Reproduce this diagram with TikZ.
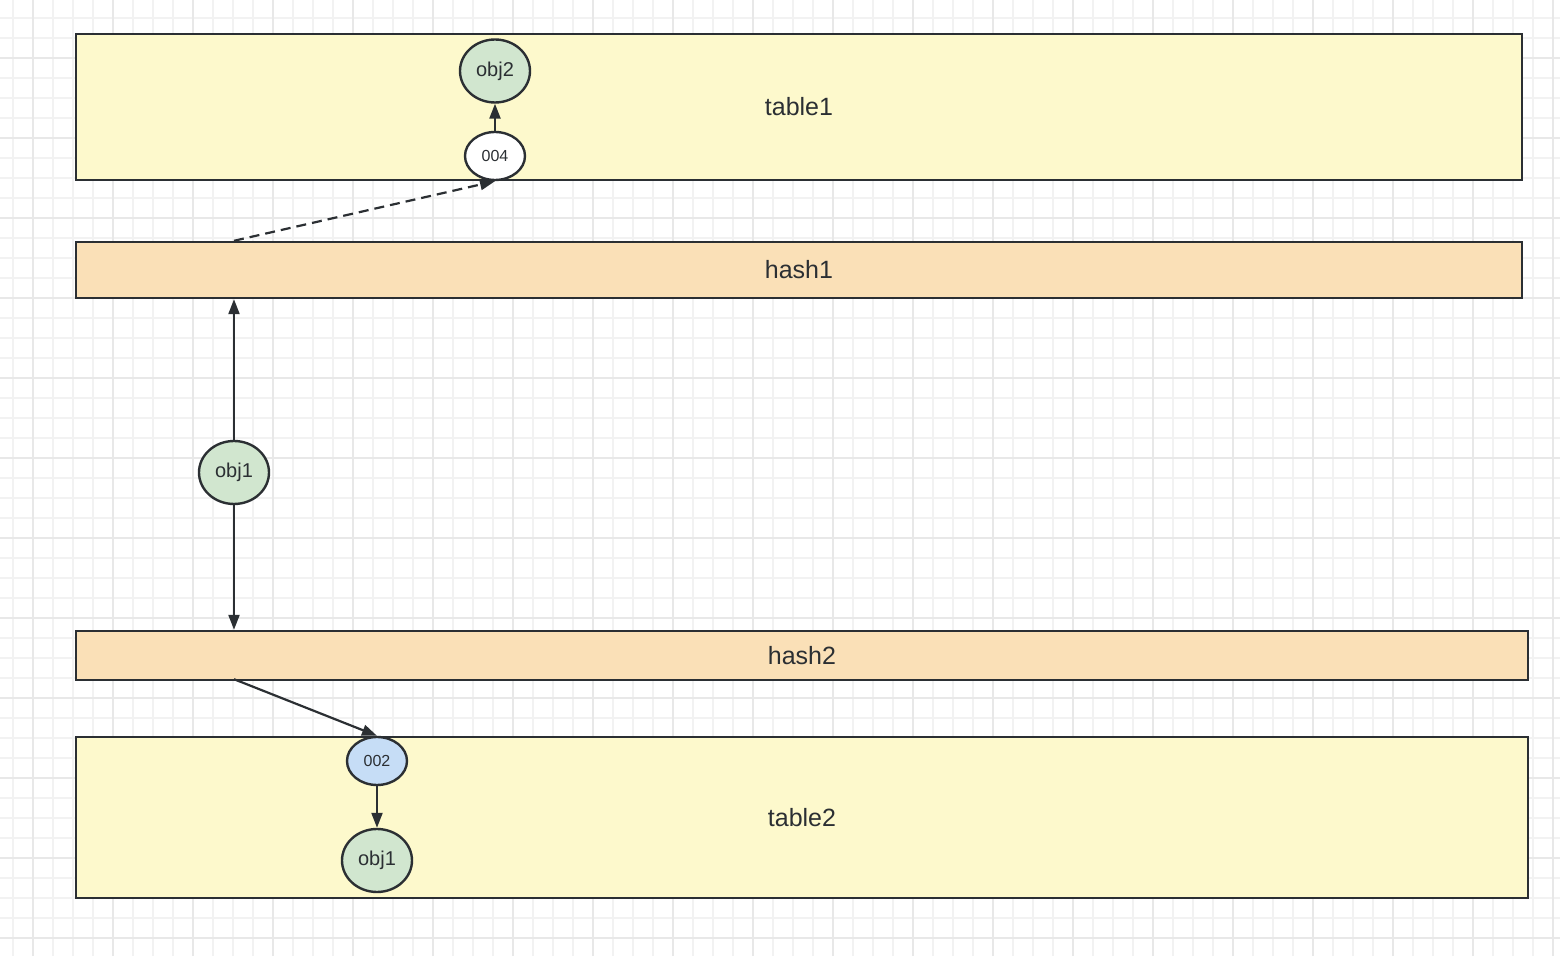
\documentclass[tikz,border=0pt]{standalone}
\usepackage{fontspec}
\setmainfont{Liberation Sans}
\usepackage{tikz}
\usetikzlibrary{arrows.meta,shapes.geometric}
\definecolor{inkc}{HTML}{2B2F33}
\definecolor{tablefill}{HTML}{FDF9CC}
\definecolor{hashfill}{HTML}{FAE0B7}
\definecolor{objfill}{HTML}{D1E6CF}
\definecolor{keyfill}{HTML}{C6DDF6}
\definecolor{gridminor}{HTML}{F2F2F2}
\definecolor{gridmajor}{HTML}{E8E8E8}
\tikzset{
  band/.style={draw=inkc,line width=1.2pt,inner sep=0pt,text=inkc,font=\fontsize{12.5}{14}\selectfont},
  tablebox/.style={band,fill=tablefill,minimum width=723pt},
  hashbox/.style={band,fill=hashfill,minimum width=723pt},
  objnode/.style={ellipse,draw=inkc,line width=1.2pt,fill=objfill,inner sep=0pt,
    minimum width=35pt,minimum height=31.5pt,text=inkc,font=\fontsize{10}{12}\selectfont},
  keynode/.style={ellipse,draw=inkc,line width=1.2pt,inner sep=0pt,
    minimum width=30pt,minimum height=24pt,text=inkc,font=\fontsize{8}{10}\selectfont},
  link/.style={-{Triangle[length=7.5pt,width=5.5pt]},draw=inkc,line width=1.1pt},
  dlink/.style={link,dash pattern=on 5pt off 3pt}
}

\begin{document}
\begin{tikzpicture}[x=0.5pt,y=-0.5pt]
  \useasboundingbox (0,0) rectangle (1560,956);
  % background grid
  \foreach \gx in {13,33,...,1553} \draw[gridminor,line width=1pt] (\gx,0) -- (\gx,956);
  \foreach \gy in {18,38,...,938} \draw[gridminor,line width=1pt] (0,\gy) -- (1560,\gy);
  \foreach \gx in {33,113,...,1553} \draw[gridmajor,line width=1.2pt] (\gx,0) -- (\gx,956);
  \foreach \gy in {58,138,...,938} \draw[gridmajor,line width=1.2pt] (0,\gy) -- (1560,\gy);
  % tables and hash bands
  \node[tablebox,minimum height=73pt] (table1) at (799,107) {table1};
  \node[hashbox,minimum height=28pt] (hash1) at (799,270) {hash1};
  \node[hashbox,minimum width=726pt,minimum height=24.5pt] (hash2) at (802,655.5) {hash2};
  \node[tablebox,minimum width=726pt,minimum height=80.5pt] (table2) at (802,817.5) {table2};
  % entries of table1
  \node[objnode] (obj2) at (495,71) {obj2};
  \node[keynode,fill=white] (k004) at (495,156) {004};
  % the object being rehashed
  \node[objnode] (obj1) at (234,472.5) {obj1};
  % entries of table2
  \node[keynode,fill=keyfill] (k002) at (377,761) {002};
  \node[objnode] (obj1b) at (377,860.5) {obj1};
  % connectors
  \draw[link] (k004) -- (obj2);
  \draw[dlink] (obj1 |- hash1.north) -- (k004.south);
  \draw[link] (obj1) -- (obj1 |- hash1.south);
  \draw[link] (obj1) -- (obj1 |- hash2.north);
  \draw[link] ([yshift=1pt]obj1 |- hash2.south) -- (k002.north);
  \draw[link] (k002) -- (obj1b);
\end{tikzpicture}
\end{document}
